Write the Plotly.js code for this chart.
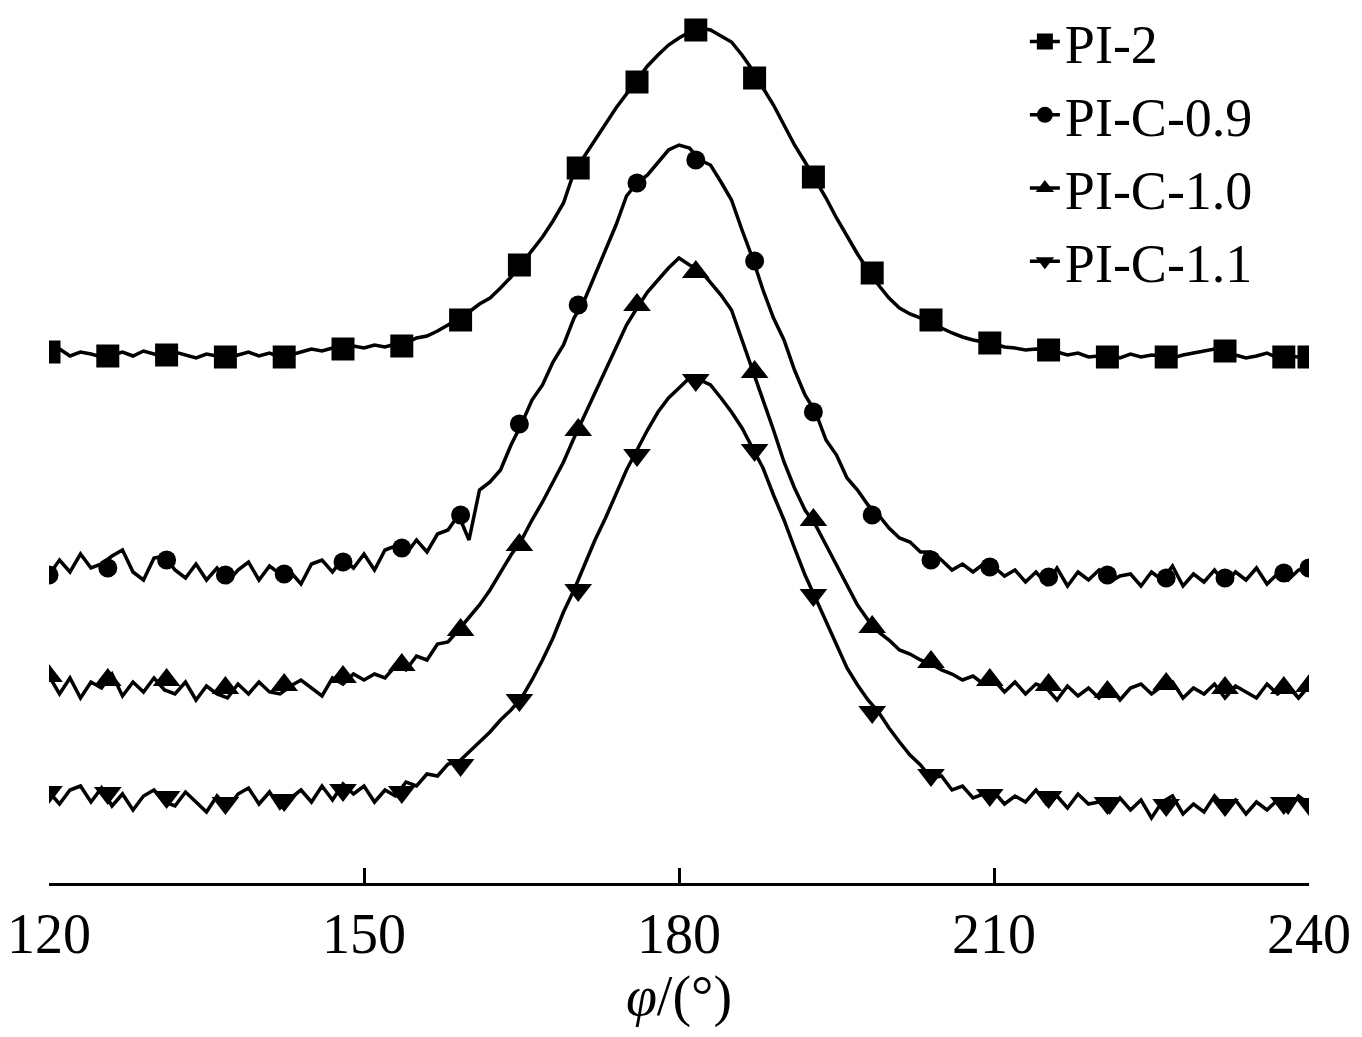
<!DOCTYPE html>
<html>
<head>
<meta charset="utf-8">
<script src="https://cdn.plot.ly/plotly-3.0.1.min.js"></script>
<style>html,body{margin:0;padding:0;background:#fff;}#chart{width:1362px;height:1037px;}</style>
</head>
<body>
<div id="chart"></div>
<script>
// Azimuthal angle (degrees), 1-degree sampling
const phi = [];
for (let d = 120; d <= 240; d++) phi.push(d);

// Marker positions (degrees)
const markerPhi = [120,125.6,131.2,136.8,142.4,148,153.6,159.2,164.8,170.4,176,181.6,187.2,192.8,198.4,204,209.6,215.2,220.8,226.4,232,237.6,240];

const seriesNames = ['PI-2','PI-C-0.9','PI-C-1.0','PI-C-1.1'];
const seriesSymbols = ['square','circle','triangle-up','triangle-down'];

// Intensity (a.u., curves vertically offset as in the original figure)
const pi2 = [
648,651,644,648,646,643,645,648,644,649,
646,644,648,645,642,646,644,642,645,648,
644,647,643,645,648,651,649,652,652,654,
652,655,653,656,657,662,664,669,675,681,
688,696,702,712,723,736,750,763,779,797,
828,844,860,876,892,906,920,934,945,955,
962,968,972,970,964,958,945,930,912,895,
875,855,838,820,802,782,764,746,730,715,
702,692,686,682,678,672,667,663,660,658,
656,653,652,650,651,650,648,645,647,643,
644,646,642,646,643,645,644,642,645,647,
649,651,646,645,642,644,647,642,644,643,
645];
const piC09 = [
425,440,428,446,432,436,444,450,428,420,
442,444,430,422,436,420,432,418,430,438,
420,434,426,428,416,436,440,428,442,432,
446,430,450,454,446,460,448,466,470,485,
460,510,518,530,555,576,600,615,638,655,
682,700,725,750,775,804,817,825,838,850,
855,852,840,835,818,800,770,742,710,682,
660,630,605,588,560,545,522,510,495,485,
472,462,458,448,448,440,430,436,428,436,
433,424,430,418,428,416,432,414,428,420,
430,418,424,426,414,428,420,434,414,426,
418,430,416,428,420,432,416,426,420,430,
432];
const piC10 = [
324,306,322,302,318,312,326,304,318,308,
322,310,306,318,300,314,306,302,316,306,
318,308,306,314,320,312,304,322,316,326,
320,326,322,334,330,344,340,356,358,370,
382,395,410,428,445,460,480,498,518,538,
562,585,608,630,652,675,692,708,720,732,
742,735,730,718,705,690,660,632,600,570,
538,512,490,475,455,435,415,395,380,368,
360,350,346,340,336,330,326,320,324,316,
320,308,318,306,316,312,300,314,304,312,
302,314,300,312,316,306,314,318,302,312,
306,316,302,314,308,302,316,306,314,302,
314];
const piC11 = [
208,196,210,214,198,212,194,206,190,204,
210,198,194,208,198,188,204,192,206,212,
196,208,192,202,210,198,214,200,216,206,
214,198,210,204,218,214,226,224,236,238,
248,258,268,280,290,302,320,340,362,388,
410,435,460,482,505,530,550,570,588,602,
612,622,620,615,602,588,572,552,532,505,
480,452,425,402,378,355,332,315,300,288,
272,258,245,235,222,224,210,214,202,206,
208,196,204,198,210,196,204,192,206,196,
198,188,202,190,200,182,198,204,186,196,
188,204,192,200,186,198,190,200,188,204,
196];

// Values at the marker positions
const pi2Mk   = [648,644,645,643,643,651,654,680,735,832,918,970,922,823,727,680,657,650,643,643,649,643,643];
const piC09Mk = [425,432,440,425,426,438,452,485,576,695,817,840,739,588,485,440,433,423,425,422,422,427,432];
const piC10Mk = [324,320,320,312,315,323,335,370,455,570,695,728,628,480,373,338,320,315,308,316,312,312,314];
const piC11Mk = [208,207,203,197,200,210,208,235,300,410,545,620,550,405,288,225,205,203,197,195,195,197,196];

const tickVals = [120,150,180,210,240];
const tickText = ['120','150','180','210','240'];

const lines = [pi2, piC09, piC10, piC11];
const marks = [pi2Mk, piC09Mk, piC10Mk, piC11Mk];
const markerSizes = [23, 19, 24, 24];

const traces = [];
for (let i = 0; i < 4; i++) {
  traces.push({
    x: phi, y: lines[i], type: 'scatter', mode: 'lines',
    line: {color: '#000', width: 3.5}, showlegend: false, hoverinfo: 'skip'
  });
  traces.push({
    x: markerPhi, y: marks[i], type: 'scatter', mode: 'markers',
    marker: {color: '#000', symbol: seriesSymbols[i], size: markerSizes[i], line: {width: 0}},
    showlegend: false
  });
}
for (let i = 0; i < 4; i++) {
  traces.push({
    x: [null], y: [null], type: 'scatter', mode: 'lines+markers', name: seriesNames[i],
    line: {color: '#000', width: 3.5},
    marker: {color: '#000', symbol: seriesSymbols[i], size: 16}
  });
}

const layout = {
  width: 1362, height: 1037,
  margin: {l: 49, r: 53, t: 0, b: 154},
  paper_bgcolor: '#fff', plot_bgcolor: '#fff',
  font: {family: 'Liberation Serif, Times New Roman, serif', color: '#000', size: 56},
  showlegend: true,
  legend: {
    x: 0.7745, y: 1.0, xanchor: 'left', yanchor: 'top',
    bgcolor: 'rgba(0,0,0,0)', borderwidth: 0,
    font: {family: 'Liberation Serif, serif', size: 54, color: '#000'},
    traceorder: 'normal'
  },
  xaxis: {
    range: [120, 240], tickvals: tickVals, ticktext: tickText,
    ticks: 'inside', ticklen: 15, tickwidth: 3, tickcolor: '#000',
    showline: true, linewidth: 3, linecolor: '#000', mirror: false,
    showgrid: false, zeroline: false,
    tickfont: {family: 'Liberation Serif, serif', size: 56, color: '#000'},
    title: {text: '<i>φ</i>/(°)', font: {family: 'Liberation Serif, serif', size: 56, color: '#000'}, standoff: 6}
  },
  yaxis: {
    range: [117, 1000], visible: false, showgrid: false, zeroline: false
  }
};

Plotly.newPlot('chart', traces, layout, {displayModeBar: false, staticPlot: true});
</script>
</body>
</html>
